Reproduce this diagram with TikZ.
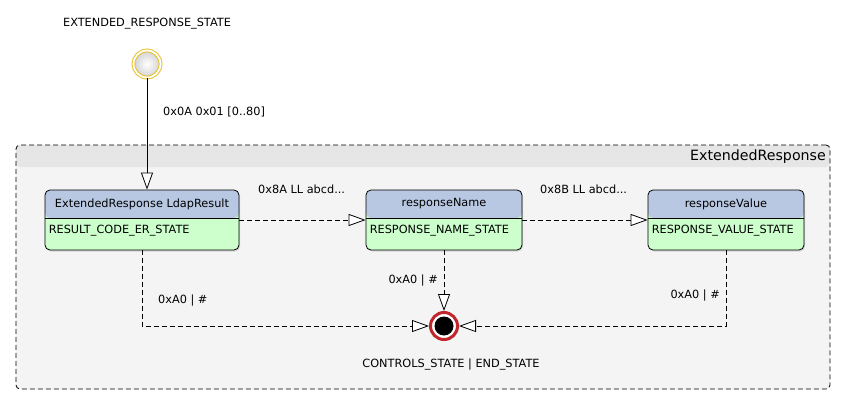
\documentclass[tikz,border=0pt]{standalone}
\usepackage{fontspec}
\setmainfont{DejaVu Sans}
\usetikzlibrary{arrows.meta,shadows}
\definecolor{hdrblue}{HTML}{B8C8E2}
\definecolor{bodygreen}{HTML}{CCFFCC}
\definecolor{contbody}{HTML}{F4F4F4}
\definecolor{conthdr}{HTML}{E6E6E6}
\definecolor{ringyellow}{HTML}{E6C22A}
\definecolor{ringred}{HTML}{C0262B}
\tikzset{
  lbl/.style={font=\fontsize{11.3}{13}\selectfont, inner sep=0pt},
  statebox/.style={draw=black, line width=0.8pt, rounded corners=5pt, fill=bodygreen,
    inner sep=0pt, drop shadow={opacity=0.25, shadow xshift=1pt, shadow yshift=-1.5pt},
    path picture={\fill[hdrblue] (path picture bounding box.north west) rectangle ([yshift=2pt]path picture bounding box.east);}},
  tip/.style={-{Triangle[length=17pt,width=12pt,fill=white,line width=0.8pt]}},
  solidarrow/.style={tip, draw=black, line width=0.8pt},
  dasharrow/.style={tip, draw=black, line width=0.8pt, dash pattern=on 5pt off 3pt},
}
\begin{document}
\begin{tikzpicture}[x=1pt,y=-1pt]
\useasboundingbox (0,0) rectangle (844,404);
% container
\node[draw=black, line width=0.8pt, dash pattern=on 5pt off 3pt, rounded corners=4pt, fill=contbody,
  minimum width=814pt, minimum height=244pt, inner sep=0pt,
  path picture={\fill[conthdr] (path picture bounding box.north west) rectangle ([yshift=-22pt]path picture bounding box.north east);}]
  (cont) at (423,267) {};
\node[lbl, font=\fontsize{14.2}{16}\selectfont, anchor=east] (conttitle) at (826,157) {ExtendedResponse};

% initial state
\node[lbl] (initlbl) at (147,24) {EXTENDED\_RESPONSE\_STATE};
\node[circle, minimum size=27pt, inner sep=0pt, draw=ringyellow, line width=1pt,
  double=white, double distance=1.8pt, inner color=white, outer color=black!18,
  drop shadow={opacity=0.2, shadow xshift=1pt, shadow yshift=-1.5pt}] (init) at (147,64) {};

% boxes
\node[statebox, minimum width=194pt, minimum height=60pt] (b1) at (142,220) {};
\node[statebox, minimum width=156pt, minimum height=60pt] (b2) at (444,220) {};
\node[statebox, minimum width=156pt, minimum height=60pt] (b3) at (726,220) {};
\foreach \b in {b1,b2,b3}{
  \draw[line width=0.8pt] ([yshift=2pt]\b.west) -- ([yshift=2pt]\b.east);
}
\node[lbl] (h1) at (142,204) {ExtendedResponse LdapResult};
\node[lbl] (h2) at (444,204) {responseName};
\node[lbl] (h3) at (726,204) {responseValue};
\node[lbl, anchor=west] (s1) at ([xshift=4pt]b1.west |- 0,231) {RESULT\_CODE\_ER\_STATE};
\node[lbl, anchor=west] (s2) at ([xshift=4pt]b2.west |- 0,231) {RESPONSE\_NAME\_STATE};
\node[lbl, anchor=west] (s3) at ([xshift=4pt]b3.west |- 0,231) {RESPONSE\_VALUE\_STATE};

% final state
\node[circle, minimum size=27pt, inner sep=0pt, draw=ringred, line width=3pt, fill=white,
  drop shadow={opacity=0.3, shadow xshift=1pt, shadow yshift=-1.5pt},
  path picture={\fill[black] (path picture bounding box.center) circle (9.5pt);}]
  (end) at (444,326) {};
\node[lbl] (endlbl) at (451,365) {CONTROLS\_STATE | END\_STATE};

% connectors
\draw[solidarrow] (init) -- (init |- b1.north);
\node[lbl, anchor=west] (l0) at (163,112) {0x0A 0x01 [0..80]};
\draw[dasharrow] (b1.east) -- (b2.west);
\node[lbl, anchor=west] (l1) at (258,189) {0x8A LL abcd...};
\draw[dasharrow] (b2.east) -- (b3.west);
\node[lbl, anchor=west] (l2) at (540,189) {0x8B LL abcd...};
\draw[dasharrow] (b1.south) |- (end.west);
\node[lbl, anchor=west] (l3) at (158,301) {0xA0 | \#};
\draw[dasharrow] (b2.south) -- (end.north);
\node[lbl, anchor=east] (l4) at (438,281) {0xA0 | \#};
\draw[dasharrow] (b3.south) |- (end.east);
\node[lbl, anchor=east] (l5) at (720,296) {0xA0 | \#};
\end{tikzpicture}
\end{document}
